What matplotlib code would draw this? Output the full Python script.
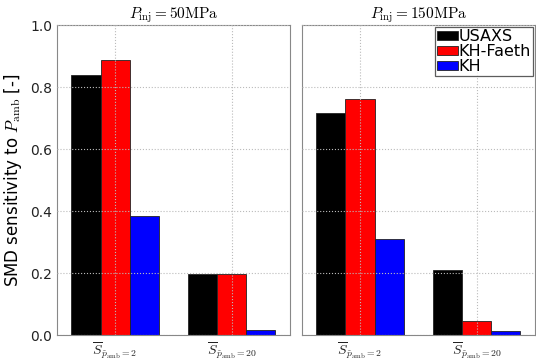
import numpy as np
import matplotlib.pyplot as plt
plt.switch_backend('agg')

plt.rcParams['mathtext.fontset'] = 'cm'

groups = [r'$\overline{S}_{\tilde{p}_\mathrm{amb}=2}$', r'$\overline{S}_{\tilde{p}_\mathrm{amb}=20}$']
titles = [r'$P_\mathrm{inj}=50\mathrm{MPa}$', r'$P_\mathrm{inj}=150\mathrm{MPa}$']
models = ['USAXS', 'KH-Faeth', 'KH']
colors = ['black', 'red', 'blue']

# values per panel: rows = models, cols = groups
vals_50 = [[0.838, 0.197], [0.888, 0.197], [0.384, 0.015]]
vals_150 = [[0.715, 0.210], [0.760, 0.045], [0.310, 0.013]]

fig = plt.figure(figsize=(5.36, 3.63), dpi=100)
ax1 = fig.add_axes([0.106, 0.077, 0.435, 0.854])
ax2 = fig.add_axes([0.563, 0.077, 0.435, 0.854])

x = np.arange(len(groups))
w = 0.25
for ax, vals, title in [(ax1, vals_50, titles[0]), (ax2, vals_150, titles[1])]:
    for i, (m, c) in enumerate(zip(models, colors)):
        ax.bar(x + (i - 1) * w, vals[i], w, color=c, edgecolor='#222222', linewidth=0.6, label=m)
    ax.set_xlim(-0.5, 1.5)
    ax.set_ylim(0, 1.0)
    ax.set_xticks(x)
    ax.set_xticklabels(groups, fontsize=10)
    ax.set_yticks([0, 0.2, 0.4, 0.6, 0.8, 1.0])
    ax.set_axisbelow(False)
    ax.grid(True, linestyle=':', color='#bbbbbb', linewidth=0.8)
    ax.set_title(title, fontsize=11, pad=4)
    for s in ax.spines.values():
        s.set_color('#888888')
    ax.tick_params(axis='both', length=0, labelsize=10, colors='#222222')

ax1.set_yticklabels(['0.0', '0.2', '0.4', '0.6', '0.8', '1.0'])
ax1.set_ylabel(r'SMD sensitivity to $P_\mathrm{amb}$ [-]', fontsize=12)
ax2.set_yticklabels([])

leg = ax2.legend(loc='upper right', fontsize=11.5, handlelength=1.3, handleheight=0.45,
                 handletextpad=0.05, borderpad=0.1, labelspacing=0.0, fancybox=False,
                 borderaxespad=0.15)
leg.get_frame().set_edgecolor('#333333')
leg.get_frame().set_linewidth(0.9)

fig.savefig('out.png', dpi=100)
